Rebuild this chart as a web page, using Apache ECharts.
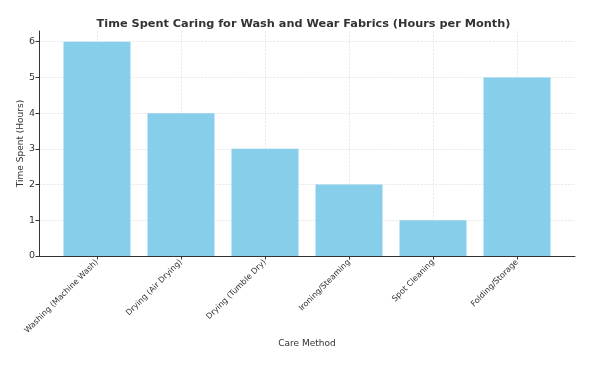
<!DOCTYPE html>
<html><head><meta charset="utf-8">
<script src="https://cdn.jsdelivr.net/npm/echarts@6/dist/echarts.min.js"></script>
<style>html,body{margin:0;padding:0;background:#fff}#c{width:607px;height:365px}</style>
</head><body><div id="c"></div>
<script>
const categories = ["Washing (Machine Wash)", "Drying (Air Drying)", "Drying (Tumble Dry)", "Ironing/Steaming", "Spot Cleaning", "Folding/Storage"];
const hours = [6, 4, 3, 2, 1, 5];
const yTicks = [0, 1, 2, 3, 4, 5, 6];
const positions = categories.map((_, i) => i);

const chart = echarts.init(document.getElementById('c'), null, {renderer: 'canvas'});
const font = 'DejaVu Sans';
chart.setOption({
  animation: false,
  title: {
    text: 'Time Spent Caring for Wash and Wear Fabrics (Hours per Month)',
    left: 'center', top: 14,
    textStyle: {fontFamily: font, fontSize: 11.3, fontWeight: 'bold', color: '#333'}
  },
  grid: {left: 39, right: 32, top: 31, bottom: 109, containLabel: false},
  xAxis: {
    type: 'value', min: -0.69, max: 5.69,
    name: 'Care Method', nameLocation: 'middle', nameGap: 83, nameMoveOverlap: false,
    nameTextStyle: {fontFamily: font, fontSize: 9, color: '#333'},
    axisLine: {show: true, onZero: false, lineStyle: {color: '#333', width: 1}},
    axisTick: {show: true, customValues: positions, length: 3.5, lineStyle: {color: '#333'}},
    axisLabel: {customValues: positions, rotate: 45, fontFamily: font, fontSize: 8, color: '#333', margin: 5,
      formatter: v => categories[Math.round(v)]},
    splitLine: {show: true, lineStyle: {color: '#ddd', type: 'dashed', width: 0.6}}
  },
  yAxis: {
    type: 'value', min: 0, max: 6.3,
    name: 'Time Spent (Hours)', nameLocation: 'middle', nameGap: 14, nameMoveOverlap: false,
    nameTextStyle: {fontFamily: font, fontSize: 9, color: '#333'},
    axisLine: {show: true, onZero: false, lineStyle: {color: '#333', width: 1}},
    axisTick: {show: true, customValues: yTicks, length: 3.5, lineStyle: {color: '#333'}},
    axisLabel: {customValues: yTicks, fontFamily: font, fontSize: 9.5, color: '#333', margin: 4},
    splitLine: {show: true, lineStyle: {color: '#ddd', type: 'dashed', width: 0.6}}
  },
  series: [{
    type: 'bar',
    data: positions.map((p, i) => [p, hours[i]]),
    barWidth: 67,
    itemStyle: {color: '#87CEEB'},
    z: 1
  }]
});
</script></body></html>
